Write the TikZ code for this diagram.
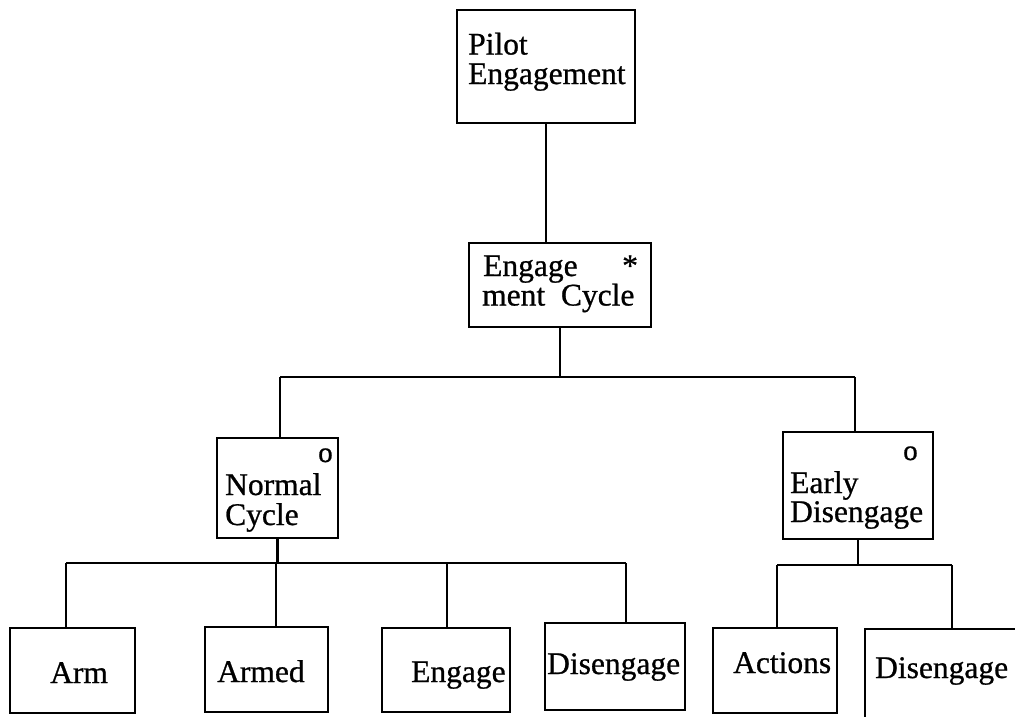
\documentclass[tikz,border=0pt]{standalone}
\usepackage{fontspec}
\setmainfont[FakeBold=0.8]{Liberation Serif}
\begin{document}
\begin{tikzpicture}[x=1pt,y=-1pt,
  box/.style={draw, line width=2.8pt, inner sep=0pt, minimum width=#1},
  lbl/.style={inner sep=0pt, anchor=base west, font=\fontsize{31.5}{28}\selectfont},
  optmark/.style={inner sep=0pt, anchor=base west, font=\fontsize{29}{28}\selectfont},
  wire/.style={line width=2.8pt}]
\useasboundingbox (0,0) rectangle (1015,716);
\clip (0,0) rectangle (1015,716);

% boxes
\node[box=178pt, minimum height=113pt] (pilot) at (546,66.5) {};
\node[box=182pt, minimum height=84pt]  (ec)    at (560,285) {};
\node[box=121pt, minimum height=100pt] (nc)    at (277.5,488) {};
\node[box=150pt, minimum height=107pt] (ed)    at (858,485.5) {};
\node[box=125pt, minimum height=85pt]  (arm)   at (72.5,670.5) {};
\node[box=123pt, minimum height=85pt]  (armed) at (266.5,669.5) {};
\node[box=128pt, minimum height=84pt]  (eng)   at (446,670) {};
\node[box=140pt, minimum height=87pt]  (dis)   at (615,666.5) {};
\node[box=124pt, minimum height=85pt]  (act)   at (775,670.5) {};
\node[box=170pt, minimum height=100pt] (dis2)  at (950,679) {};

% labels
\node[lbl] (tP1) at (468,54.5) {Pilot};
\node[lbl] (tP2) at (468,84) {Engagement};
\node[lbl] (tE1) at (483,276) {Engage};
\node[lbl] (tE2) at (482,305.5) {ment\hspace{0.5em}Cycle};
\node[lbl] (tEs) at (622,276) {*};
\node[optmark] (tNo) at (318,462) {o};
\node[lbl] (tN1) at (225,495) {Normal};
\node[lbl] (tN2) at (225,525) {Cycle};
\node[optmark] (tDo) at (903,460) {o};
\node[lbl] (tD1) at (790,493) {Early};
\node[lbl] (tD2) at (790,522) {Disengage};
\node[lbl] (tArm) at (50,683) {Arm};
\node[lbl] (tArmed) at (217,682) {Armed};
\node[lbl] (tEng) at (411,682) {Engage};
\node[lbl] (tDis) at (547,674) {Disengage};
\node[lbl] (tAct) at (733,673) {Actions};
\node[lbl] (tDis2) at (875,678) {Disengage};

% junction points on the horizontal bars
\coordinate (jN) at (280,377);
\coordinate (jD) at (855,377);
\coordinate (j1) at (66,563);
\coordinate (j2) at (276,563);
\coordinate (j3) at (447,563);
\coordinate (j4) at (626,563);
\coordinate (k1) at (777,565);
\coordinate (k2) at (952,565);

% connectors
\draw[wire] (pilot.south) -- (pilot.south |- ec.north);
\draw[wire] (ec.south) -- (ec.south |- jN);
\draw[wire] (jN) -- (jD);
\draw[wire] (jN) -- (jN |- nc.north);
\draw[wire] (jD) -- (jD |- ed.north);

\draw[wire] (nc.south) -- (nc.south |- j1);
\draw[wire] (j1) -- (j4);
\draw[wire] (j1) -- (j1 |- arm.north);
\draw[wire] (j2) -- (j2 |- armed.north);
\draw[wire] (j3) -- (j3 |- eng.north);
\draw[wire] (j4) -- (j4 |- dis.north);

\draw[wire] (ed.south) -- (ed.south |- k1);
\draw[wire] (k1) -- (k2);
\draw[wire] (k1) -- (k1 |- act.north);
\draw[wire] (k2) -- (k2 |- dis2.north);
\end{tikzpicture}
\end{document}
